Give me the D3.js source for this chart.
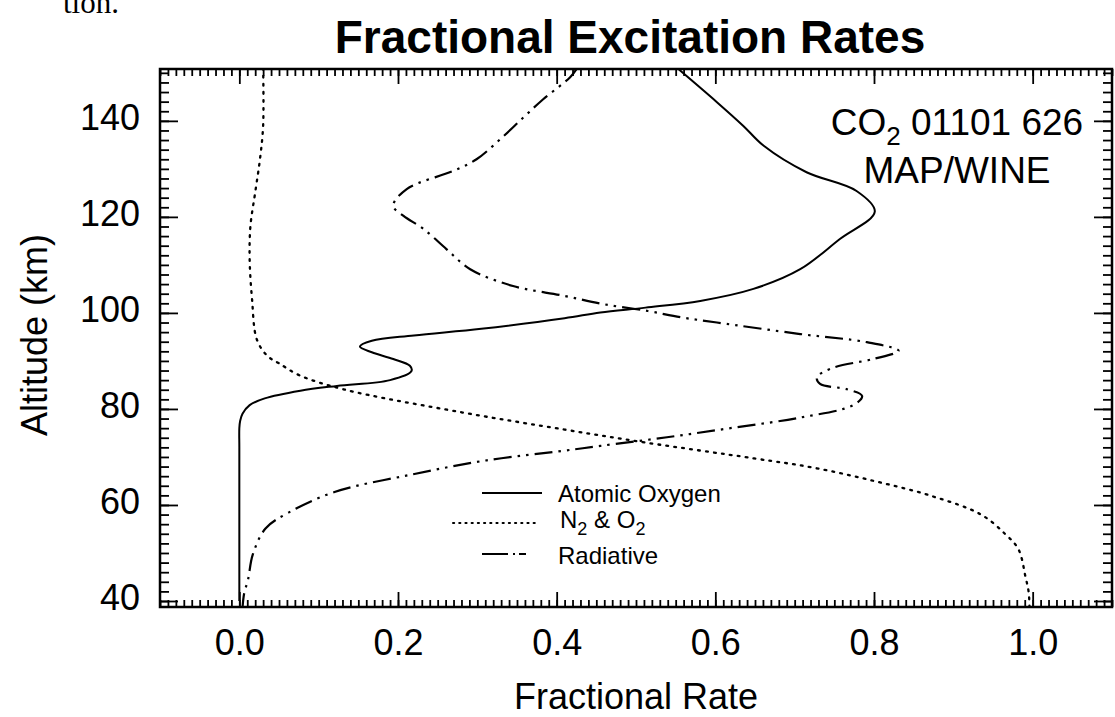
<!DOCTYPE html>
<html>
<head>
<meta charset="utf-8">
<script src="https://cdn.jsdelivr.net/npm/d3@7"></script>
<style>
  html, body { margin: 0; padding: 0; background: #fff; }
  svg { display: block; }
  text { font-family: "Liberation Sans", Arial, Helvetica, sans-serif; fill: #000; }
</style>
</head>
<body>
<svg id="chart" width="1115" height="717"></svg>
<script>
// ---------------- data ----------------
const chartTitle = "Fractional Excitation Rates";
const xAxisTitle = "Fractional Rate";
const yAxisTitle = "Altitude (km)";
const xRange = [-0.1, 1.1];
const yRange = [38.75, 150.8];
const xMajorTicks = [0.0, 0.2, 0.4, 0.6, 0.8, 1.0];
const xTickLabels = ["0.0", "0.2", "0.4", "0.6", "0.8", "1.0"];
const yMajorTicks = [40, 60, 80, 100, 120, 140];
const yTickLabels = ["40", "60", "80", "100", "120", "140"];

// Atomic Oxygen (solid)
const altAtomicO = [151, 143.9, 139.0, 134.8, 129.3, 125.4, 121.1, 115.4, 109.1, 105.0, 102.5, 101.1, 100.1, 98.9, 96.7, 95.3, 94.2, 93.0, 91.8, 90.4, 89.0, 87.9, 86.0, 84.8, 83.8, 82.2, 80.8, 79.0, 77.5, 76.0, 72.0, 60.0, 40];
const rateAtomicO = [0.552, 0.602, 0.635, 0.661, 0.715, 0.778, 0.801, 0.757, 0.707, 0.648, 0.581, 0.512, 0.455, 0.41, 0.305, 0.22, 0.167, 0.152, 0.167, 0.194, 0.215, 0.217, 0.19, 0.123, 0.077, 0.032, 0.013, 0.004, 0.001, 0.0, 0.0, 0.0, 0.0];

// N2 & O2 (dotted)
const altN2O2 = [151, 139.0, 132.0, 125.1, 118.1, 111.2, 102.9, 94.5, 91.1, 89.5, 87.0, 84.1, 79.3, 75.7, 73.0, 69.7, 67.7, 65.0, 62.0, 58.0, 54.0, 50.8, 45.0, 41.8, 38.5];
const rateN2O2 = [0.030, 0.030, 0.026, 0.020, 0.014, 0.013, 0.016, 0.022, 0.035, 0.05, 0.076, 0.131, 0.28, 0.41, 0.512, 0.649, 0.726, 0.80, 0.87, 0.935, 0.965, 0.982, 0.991, 0.995, 0.996];

// Radiative (dash-dot-dot)
const altRadiative = [151, 149.1, 144.5, 140.7, 136.2, 132.0, 129.6, 125.8, 122.3, 120.2, 117.5, 113.3, 109.1, 105.6, 103.6, 101.8, 100.4, 99.1, 98.0, 95.6, 93.9, 92.1, 90.4, 88.6, 86.6, 85.2, 84.1, 82.7, 80.8, 78.2, 76.1, 74.1, 72.3, 71.3, 69.3, 66.3, 62.7, 58.4, 55.1, 49.7, 44.5, 41.5, 38.5];
const rateRadiative = [0.426, 0.417, 0.383, 0.358, 0.329, 0.299, 0.270, 0.211, 0.194, 0.207, 0.232, 0.261, 0.291, 0.345, 0.408, 0.46, 0.515, 0.556, 0.602, 0.707, 0.791, 0.831, 0.799, 0.749, 0.728, 0.732, 0.766, 0.785, 0.774, 0.707, 0.623, 0.539, 0.455, 0.409, 0.312, 0.216, 0.120, 0.062, 0.033, 0.017, 0.011, 0.006, 0.004];

const seriesNames = ["Atomic Oxygen", "N2 & O2", "Radiative"];

// ---------------- layout ----------------
const svg = d3.select("#chart");
const frame = { left: 160, right: 1112, top: 69, bottom: 607 };
const x = d3.scaleLinear().domain(xRange).range([frame.left, frame.right]);
const y = d3.scaleLinear().domain(yRange).range([frame.bottom, frame.top]);

const styles = [
  { dash: null, width: 2 },
  { dash: "1.8,6.2", width: 2.3 },
  { dash: "18,6,2.5,6,2.5,6", width: 2.2 }
];

// stray text from scanned page
svg.append("text").attr("x", 63).attr("y", 13)
  .style("font-family", "'Liberation Serif', 'Times New Roman', serif")
  .style("font-size", "31px").text("tion.");

// title
svg.append("text").attr("x", 630).attr("y", 53).attr("text-anchor", "middle")
  .style("font-size", "46px").style("font-weight", "bold").text(chartTitle);

// clip
svg.append("clipPath").attr("id", "clip").append("rect")
  .attr("x", frame.left).attr("y", frame.top)
  .attr("width", frame.right - frame.left).attr("height", frame.bottom - frame.top);

// axes
const xMinor = d3.range(-10, 111).map(i => i / 100);
const yMinor = d3.range(40, 151, 2);

function styleAxis(g) {
  g.select(".domain").remove();
  g.selectAll("line").attr("stroke", "#000").attr("stroke-width", 1.8);
}

svg.append("g").attr("transform", `translate(0,${frame.bottom})`)
  .call(d3.axisBottom(x).tickValues(xMinor).tickSize(-7).tickFormat(""))
  .call(styleAxis);
svg.append("g").attr("transform", `translate(0,${frame.top})`)
  .call(d3.axisTop(x).tickValues(xMinor).tickSize(-7).tickFormat(""))
  .call(styleAxis);
svg.append("g").attr("transform", `translate(${frame.left},0)`)
  .call(d3.axisLeft(y).tickValues(yMinor).tickSize(-9).tickFormat(""))
  .call(styleAxis);
svg.append("g").attr("transform", `translate(${frame.right},0)`)
  .call(d3.axisRight(y).tickValues(yMinor).tickSize(-9).tickFormat(""))
  .call(styleAxis);

const xb = svg.append("g").attr("transform", `translate(0,${frame.bottom})`)
  .call(d3.axisBottom(x).tickValues(xMajorTicks).tickSize(-15).tickPadding(22)
    .tickFormat((d, i) => xTickLabels[i]))
  .call(styleAxis);
xb.selectAll("text").style("font-size", "36px").style("font-family", null).attr("fill", "#000");

svg.append("g").attr("transform", `translate(0,${frame.top})`)
  .call(d3.axisTop(x).tickValues(xMajorTicks).tickSize(-15).tickFormat(""))
  .call(styleAxis);

const yl = svg.append("g").attr("transform", `translate(${frame.left},0)`)
  .call(d3.axisLeft(y).tickValues(yMajorTicks).tickSize(-18).tickPadding(20)
    .tickFormat((d, i) => yTickLabels[i]))
  .call(styleAxis);
yl.selectAll("text").style("font-size", "36px").style("font-family", null).attr("fill", "#000").attr("dy", "0.23em");

svg.append("g").attr("transform", `translate(${frame.right},0)`)
  .call(d3.axisRight(y).tickValues(yMajorTicks).tickSize(-18).tickFormat(""))
  .call(styleAxis);

// frame
svg.append("rect").attr("x", frame.left).attr("y", frame.top)
  .attr("width", frame.right - frame.left).attr("height", frame.bottom - frame.top)
  .attr("fill", "none").attr("stroke", "#000").attr("stroke-width", 2.5);

// axis titles
svg.append("text").attr("x", 636).attr("y", 709).attr("text-anchor", "middle")
  .style("font-size", "36px").text(xAxisTitle);
svg.append("text").attr("transform", "translate(47,335) rotate(-90)").attr("text-anchor", "middle")
  .style("font-size", "36px").text(yAxisTitle);

// curves
const series = [
  { alt: altAtomicO, rate: rateAtomicO },
  { alt: altN2O2, rate: rateN2O2 },
  { alt: altRadiative, rate: rateRadiative }
];
const line = d3.line().x(d => x(d[0])).y(d => y(d[1])).curve(d3.curveCatmullRom.alpha(0.5));
const plot = svg.append("g").attr("clip-path", "url(#clip)");
series.forEach((s, i) => {
  const pts = s.alt.map((a, k) => [s.rate[k], a]);
  plot.append("path").datum(pts).attr("d", line)
    .attr("fill", "none").attr("stroke", "#000")
    .attr("stroke-width", styles[i].width)
    .attr("stroke-linejoin", "round")
    .attr("stroke-linecap", i === 1 ? "round" : "butt")
    .attr("stroke-dasharray", styles[i].dash);
});

// annotation
const ann = svg.append("text").attr("x", 957).attr("y", 135).attr("text-anchor", "middle").style("font-size", "37px");
ann.append("tspan").text("CO");
ann.append("tspan").attr("dy", 10).style("font-size", "26px").text("2");
ann.append("tspan").attr("dy", -10).text(" 01101 626");
svg.append("text").attr("x", 957).attr("y", 183).attr("text-anchor", "middle").style("font-size", "37px").text("MAP/WINE");

// legend
const legendRows = [
  { x1: 482, x2: 542, ly: 493, tx: 558, ty: 502 },
  { x1: 453, x2: 538, ly: 523, tx: 560, ty: 528 },
  { x1: 482, x2: 543, ly: 554, tx: 558, ty: 564 }
];
const legend = svg.append("g");
legendRows.forEach((r, i) => {
  legend.append("line").attr("x1", r.x1).attr("x2", r.x2).attr("y1", r.ly).attr("y2", r.ly)
    .attr("stroke", "#000").attr("stroke-width", 2)
    .attr("stroke-linecap", i === 1 ? "round" : "butt")
    .attr("stroke-dasharray", i === 1 ? "1.2,5" : (i === 2 ? "26,5,2,4,7" : null));
  const t = legend.append("text").attr("x", r.tx).attr("y", r.ty).style("font-size", "24px");
  if (seriesNames[i] === "N2 & O2") {
    t.append("tspan").text("N");
    t.append("tspan").attr("dy", 7).style("font-size", "18px").text("2");
    t.append("tspan").attr("dy", -7).text(" & O");
    t.append("tspan").attr("dy", 7).style("font-size", "18px").text("2");
  } else {
    t.text(seriesNames[i]);
  }
});
</script>
</body>
</html>
